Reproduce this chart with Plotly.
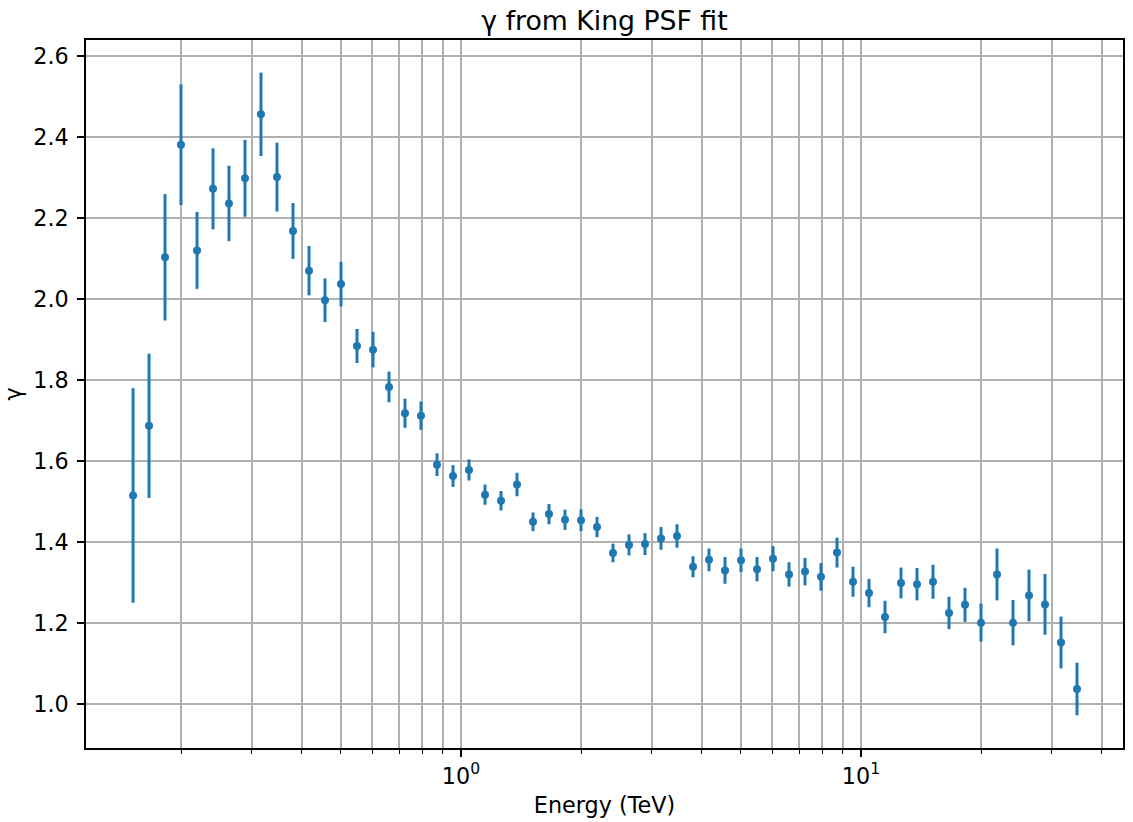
import plotly.graph_objects as go

# Energy bin centres (TeV), log-spaced
energy = [0.1514, 0.1660, 0.1820, 0.1995, 0.2188, 0.2399, 0.2630, 0.2884, 0.3162, 0.3467,
          0.3802, 0.4169, 0.4571, 0.5012, 0.5495, 0.6026, 0.6607, 0.7244, 0.7943, 0.8710,
          0.9550, 1.0471, 1.1482, 1.2589, 1.3804, 1.5136, 1.6596, 1.8197, 1.9953, 2.1878,
          2.3988, 2.6303, 2.8840, 3.1623, 3.4674, 3.8019, 4.1687, 4.5709, 5.0119, 5.4954,
          6.0256, 6.6069, 7.2444, 7.9433, 8.7096, 9.5499, 10.471, 11.482, 12.589, 13.804,
          15.136, 16.596, 18.197, 19.953, 21.878, 23.988, 26.303, 28.840, 31.623, 34.674]

gamma = [1.515, 1.687, 2.103, 2.381, 2.120, 2.272, 2.236, 2.298, 2.456, 2.301,
         2.168, 2.070, 1.997, 2.037, 1.884, 1.875, 1.783, 1.718, 1.712, 1.591,
         1.563, 1.578, 1.517, 1.502, 1.542, 1.450, 1.469, 1.455, 1.454, 1.437,
         1.373, 1.393, 1.395, 1.409, 1.415, 1.339, 1.356, 1.330, 1.355, 1.333,
         1.359, 1.320, 1.327, 1.314, 1.374, 1.302, 1.274, 1.215, 1.299, 1.296,
         1.302, 1.225, 1.245, 1.201, 1.320, 1.201, 1.268, 1.246, 1.152, 1.037]

gamma_err = [0.265, 0.178, 0.156, 0.149, 0.095, 0.100, 0.093, 0.095, 0.103, 0.085,
             0.069, 0.061, 0.054, 0.055, 0.042, 0.044, 0.038, 0.036, 0.035, 0.028,
             0.027, 0.026, 0.025, 0.024, 0.029, 0.023, 0.025, 0.025, 0.027, 0.025,
             0.023, 0.026, 0.027, 0.028, 0.029, 0.026, 0.028, 0.033, 0.029, 0.030,
             0.031, 0.030, 0.034, 0.034, 0.037, 0.037, 0.035, 0.040, 0.038, 0.040,
             0.042, 0.040, 0.042, 0.047, 0.064, 0.056, 0.064, 0.075, 0.064, 0.065]

x_major_ticks = [1, 10]
x_major_labels = ["10<sup>0</sup>", "10<sup>1</sup>"]
x_minor_ticks = [0.2, 0.3, 0.4, 0.5, 0.6, 0.7, 0.8, 0.9,
                 2, 3, 4, 5, 6, 7, 8, 9, 20, 30, 40]
y_ticks = [1.0, 1.2, 1.4, 1.6, 1.8, 2.0, 2.2, 2.4, 2.6]
y_labels = ["1.0", "1.2", "1.4", "1.6", "1.8", "2.0", "2.2", "2.4", "2.6"]

BLUE = "#1f77b4"
GRID = "#b0b0b0"
FONT = "DejaVu Sans"
TICK_SIZE = 22.3
TITLE_SIZE = 26.7

fig = go.Figure()
fig.add_trace(go.Scatter(
    x=energy, y=gamma, mode="markers",
    marker=dict(color=BLUE, size=8, line=dict(width=0)),
    error_y=dict(type="data", array=gamma_err, visible=True,
                 color=BLUE, thickness=3, width=0),
    showlegend=False,
))

fig.update_layout(
    width=1133, height=822,
    margin=dict(l=86, r=8, t=40, b=71),
    paper_bgcolor="white", plot_bgcolor="white",
    font=dict(family=FONT, size=TICK_SIZE, color="black"),
    title=dict(text="γ from King PSF fit", x=0.5, xref="paper",
               y=1 - 21 / 822, yref="container", yanchor="middle",
               font=dict(family=FONT, size=TITLE_SIZE, color="black")),
)

fig.update_xaxes(
    type="log", range=[-0.9375, 1.655],
    tickmode="array", tickvals=x_major_ticks, ticktext=x_major_labels,
    ticks="outside", ticklen=7, tickwidth=1.6, tickcolor="black",
    showgrid=True, gridcolor=GRID, gridwidth=1.6,
    minor=dict(tickmode="array", tickvals=x_minor_ticks, ticks="outside",
               ticklen=4, tickwidth=1.2, tickcolor="black",
               showgrid=True, gridcolor=GRID, gridwidth=1.6),
    showline=True, linecolor="black", linewidth=1.6, mirror=True,
    zeroline=False,
    title=dict(text="Energy (TeV)", standoff=10, font=dict(size=TICK_SIZE)),
    tickfont=dict(size=TICK_SIZE),
)

fig.update_yaxes(
    range=[0.8915, 2.6395],
    tickmode="array", tickvals=y_ticks, ticktext=y_labels,
    ticks="outside", ticklen=7, tickwidth=1.6, tickcolor="black",
    showgrid=True, gridcolor=GRID, gridwidth=1.6,
    showline=True, linecolor="black", linewidth=1.6, mirror=True,
    zeroline=False,
    ticklabelstandoff=4,
    title=dict(text="γ", standoff=6, font=dict(size=TICK_SIZE)),
    tickfont=dict(size=TICK_SIZE),
)

fig.write_html("out.html")
